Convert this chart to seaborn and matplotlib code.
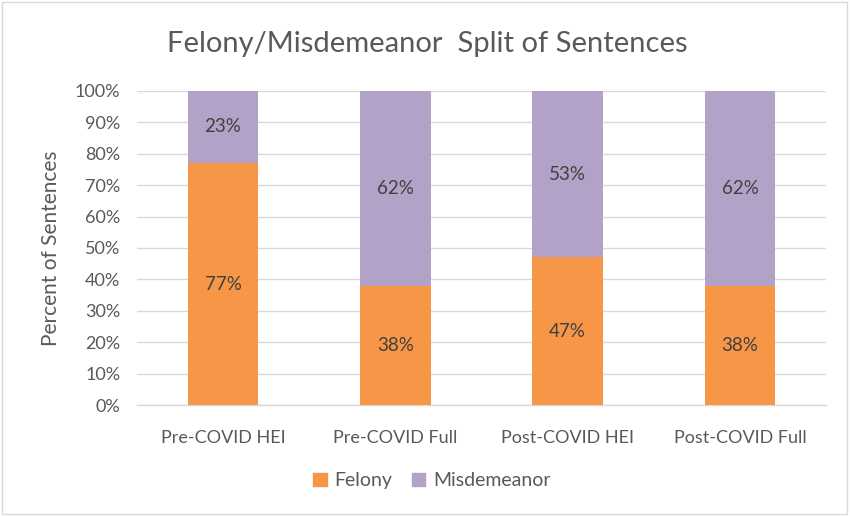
import pandas as pd
import matplotlib.pyplot as plt
import seaborn as sns
from matplotlib.patches import Patch, Rectangle
from matplotlib.ticker import PercentFormatter

# --- data ---
categories = ["Pre-COVID HEI", "Pre-COVID Full", "Post-COVID HEI", "Post-COVID Full"]
felony = [77, 38, 47, 38]
misdemeanor = [23, 62, 53, 62]

FELONY_COLOR = "#F79646"
MISD_COLOR = "#B3A2C7"
TEXT_GREY = "#595959"
LABEL_GREY = "#404040"

sns.set_theme(style="white")
plt.rcParams['font.family'] = ['Lato', 'DejaVu Sans']

df = pd.DataFrame({"category": categories, "felony": felony, "misdemeanor": misdemeanor})
df["total"] = df["felony"] + df["misdemeanor"]

fig = plt.figure(figsize=(8.5, 5.16), dpi=100)
ax = fig.add_axes([0.161, 0.215, 0.811, 0.609])

# stacked: total (purple) behind, felony (orange) in front
sns.barplot(data=df, x="category", y="total", color=MISD_COLOR, width=0.41,
            saturation=1, linewidth=0, ax=ax, zorder=3)
sns.barplot(data=df, x="category", y="felony", color=FELONY_COLOR, width=0.41,
            saturation=1, linewidth=0, ax=ax, zorder=3)

# data labels centred in each segment
for i, (f, m) in enumerate(zip(felony, misdemeanor)):
    ax.text(i, f / 2, f"{f}%", ha="center", va="center", fontsize=13.5, color=LABEL_GREY, zorder=4)
    ax.text(i, f + m / 2, f"{m}%", ha="center", va="center", fontsize=13.5, color=LABEL_GREY, zorder=4)

ax.set_ylim(0, 100)
ax.set_xlim(-0.5, 3.5)
ax.set_yticks(range(0, 101, 10))
ax.yaxis.set_major_formatter(PercentFormatter(decimals=0))
ax.grid(axis="y", color="#D9D9D9", linewidth=1, zorder=0)
ax.grid(axis="x", visible=False)
for side in ["top", "right", "left"]:
    ax.spines[side].set_visible(False)
ax.spines["bottom"].set_color("#D9D9D9")
ax.spines["bottom"].set_linewidth(1)
ax.spines["bottom"].set_zorder(2)
ax.tick_params(axis="both", length=0, colors=TEXT_GREY, labelsize=13)
ax.tick_params(axis="x", pad=18)
ax.tick_params(axis="y", pad=12)

ax.set_xlabel("")
ax.set_ylabel("Percent of Sentences", fontsize=15, color=TEXT_GREY, labelpad=10)
fig.suptitle("Felony/Misdemeanor  Split of Sentences", fontsize=21, color=TEXT_GREY,
             x=0.503, y=0.915, va="center")

handles = [Patch(color=FELONY_COLOR, label="Felony"), Patch(color=MISD_COLOR, label="Misdemeanor")]
fig.legend(handles=handles, loc="center", bbox_to_anchor=(0.508, 0.068), ncol=2, frameon=False,
           fontsize=14, labelcolor=TEXT_GREY, handlelength=0.7, handleheight=0.7,
           handletextpad=0.4, columnspacing=1.0)

# chart area border
fig.patches.append(Rectangle((0.002, 0.003), 0.994, 0.994, transform=fig.transFigure,
                             fill=False, edgecolor="#D9D9D9", linewidth=1))

plt.savefig("out.png", dpi=100, facecolor="white")
plt.close()
